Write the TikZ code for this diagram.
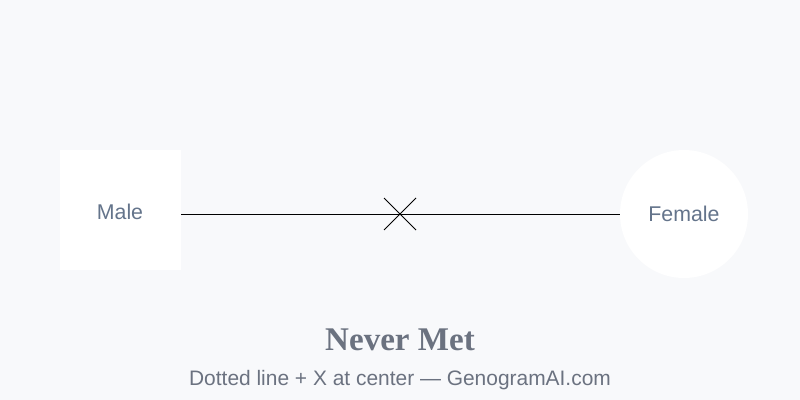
\documentclass[tikz,border=0pt]{standalone}
\usepackage{fontspec}
\usetikzlibrary{calc}
\setmainfont{Liberation Sans}
\newfontfamily\titlefont{Liberation Serif}
\definecolor{bg}{HTML}{F8F9FB}
\definecolor{lbl}{HTML}{64748B}
\definecolor{sub}{HTML}{6B7280}
\begin{document}
\begin{tikzpicture}[x=0.75pt,y=-0.75pt,
  person/.style={fill=white,draw=none,inner sep=0pt},
  lbltext/.style={text=lbl,font=\fontsize{16}{19}\selectfont},
  rel/.style={draw=black,line width=0.75pt}]
\fill[bg] (0,0) rectangle (800,400);
\useasboundingbox (0,0) rectangle (800,400);
\node[person,minimum width=90.75pt,minimum height=90pt] (m) at (120.5,210) {};
\node[lbltext] (mt) at (120,212) {Male};
\node[person,circle,minimum size=96pt] (f) at (684,214) {};
\node[lbltext] (ft) at (684,214) {Female};
\coordinate (ml) at (181,214);
\coordinate (c) at (400,214);
\draw[rel] (ml) -- (f.west);
\draw[line width=0.6pt] ($(c)+(-16,-16)$) -- ($(c)+(16,16)$);
\draw[line width=0.6pt] ($(c)+(-16,16)$) -- ($(c)+(16,-16)$);
\node[text=sub,font=\titlefont\bfseries\fontsize{24.8}{28}\selectfont] (t) at (400,340) {Never Met};
\node[text=sub,font=\fontsize{15.7}{18}\selectfont] (s) at (400,380) {Dotted line + X at center — GenogramAI.com};
\end{tikzpicture}
\end{document}
